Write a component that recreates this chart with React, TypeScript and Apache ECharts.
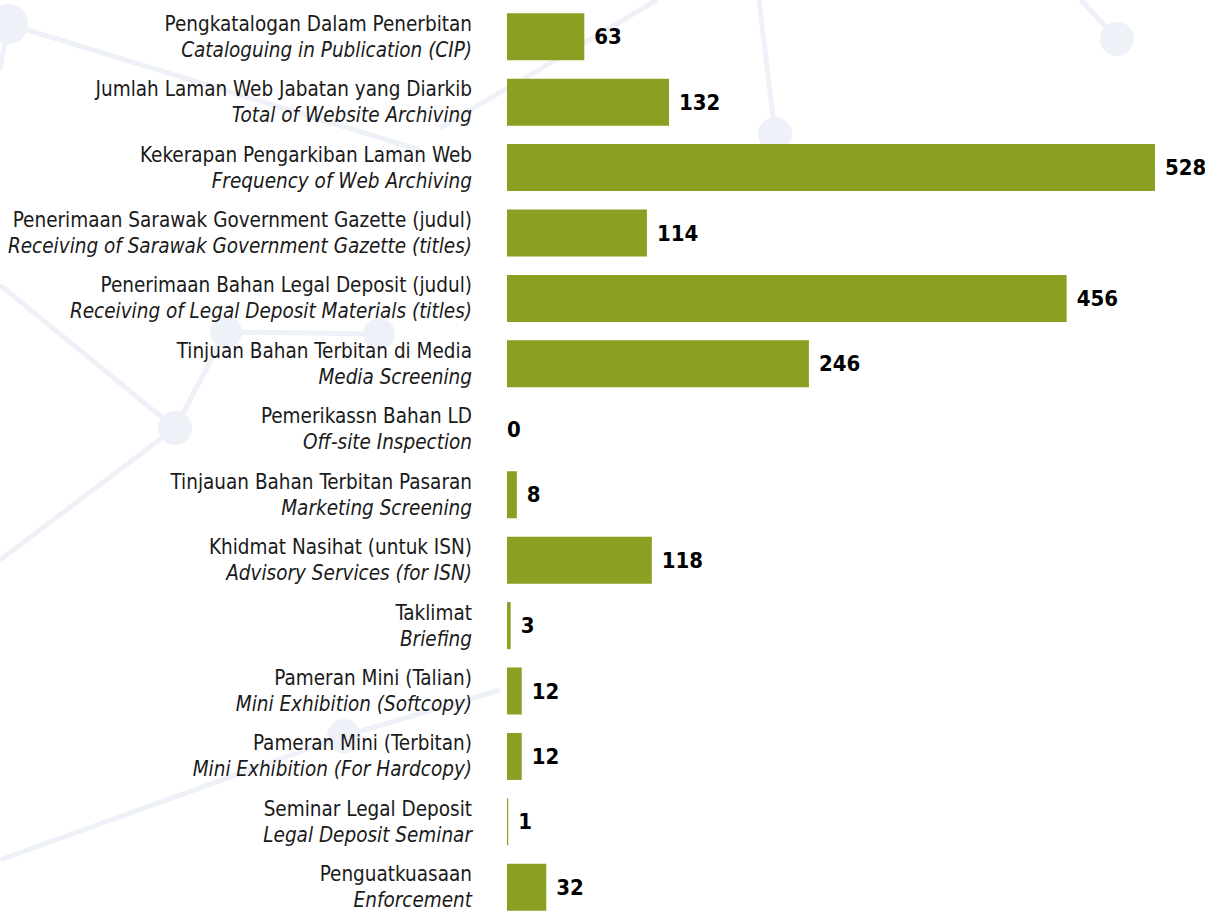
import React, { useEffect, useRef } from "react";
import * as echarts from "echarts";

const categoriesMalay: string[] = [
  "Pengkatalogan Dalam Penerbitan",
  "Jumlah Laman Web Jabatan yang Diarkib",
  "Kekerapan Pengarkiban Laman Web",
  "Penerimaan Sarawak Government Gazette (judul)",
  "Penerimaan Bahan Legal Deposit (judul)",
  "Tinjuan Bahan Terbitan di Media",
  "Pemerikassn Bahan LD",
  "Tinjauan Bahan Terbitan Pasaran",
  "Khidmat Nasihat (untuk ISN)",
  "Taklimat",
  "Pameran Mini (Talian)",
  "Pameran Mini (Terbitan)",
  "Seminar Legal Deposit",
  "Penguatkuasaan",
];

const categoriesEnglish: string[] = [
  "Cataloguing in Publication (CIP)",
  "Total of Website Archiving",
  "Frequency of Web Archiving",
  "Receiving of Sarawak Government Gazette (titles)",
  "Receiving of Legal Deposit Materials (titles)",
  "Media Screening",
  "Off-site Inspection",
  "Marketing Screening",
  "Advisory Services (for ISN)",
  "Briefing",
  "Mini Exhibition (Softcopy)",
  "Mini Exhibition (For Hardcopy)",
  "Legal Deposit Seminar",
  "Enforcement",
];

const values: number[] = [63, 132, 528, 114, 456, 246, 0, 8, 118, 3, 12, 12, 1, 32];

const BAR_COLOR = "#8aa022";
const NET_COLOR = "#eef2f8";
const FONT = "'DejaVu Sans Condensed', 'Liberation Sans Narrow', sans-serif";

// decorative background network (nodes and edges)
const netNodes: [number, number, number][] = [
  [8, 24, 20],
  [1117, 39, 17],
  [775, 134, 17],
  [226, 332, 16],
  [379, 334, 16],
  [175, 428, 17],
  [344, 736, 17],
];
const netEdges: [number, number, number, number][] = [
  [8, 24, 420, 150],
  [8, 24, 0, 70],
  [440, 128, 657, 0],
  [759, 0, 775, 134],
  [1081, 0, 1117, 39],
  [175, 428, 0, 285],
  [175, 428, 0, 560],
  [175, 428, 226, 332],
  [226, 332, 379, 334],
  [344, 736, 0, 860],
  [344, 736, 500, 690],
];

export default function App() {
  const ref = useRef<HTMLDivElement>(null);

  useEffect(() => {
    if (!ref.current) return;
    const chart = echarts.init(ref.current, undefined, { renderer: "svg" });

    const cats = categoriesMalay.map((m, i) => m + "|" + categoriesEnglish[i]);

    const graphics: any[] = [];
    netEdges.forEach(([x1, y1, x2, y2]) => {
      graphics.push({
        type: "line",
        z: -10,
        silent: true,
        shape: { x1, y1, x2, y2 },
        style: { stroke: NET_COLOR, lineWidth: 5 },
      });
    });
    netNodes.forEach(([cx, cy, r]) => {
      graphics.push({
        type: "circle",
        z: -10,
        silent: true,
        shape: { cx, cy, r },
        style: { fill: NET_COLOR },
      });
    });

    chart.setOption({
      animation: false,
      backgroundColor: "#ffffff",
      graphic: graphics,
      grid: {
        left: 507,
        right: 50,
        top: 4,
        bottom: -8,
        containLabel: false,
        outerBoundsMode: "none",
      },
      xAxis: {
        type: "value",
        min: 0,
        max: 528,
        show: false,
      },
      yAxis: {
        type: "category",
        inverse: true,
        data: cats,
        axisLine: { show: false },
        axisTick: { show: false },
        splitLine: { show: false },
        axisLabel: {
          margin: 35,
          align: "right",
          formatter: (v: string) => {
            const [m, e] = v.split("|");
            return "{a|" + m + "}\n{b|" + e + "}";
          },
          rich: {
            a: {
              fontFamily: FONT,
              fontSize: 20.5,
              color: "#1a1a1a",
              lineHeight: 26,
              align: "right",
            },
            b: {
              fontFamily: FONT,
              fontSize: 20.5,
              fontStyle: "italic",
              color: "#1a1a1a",
              lineHeight: 26,
              align: "right",
            },
          },
        },
      },
      series: [
        {
          type: "bar",
          barWidth: 47,
          data: values.map((v) => ({
            value: v,
            label: { distance: v === 0 ? 0 : 10 },
          })),
          itemStyle: { color: BAR_COLOR },
          label: {
            show: true,
            position: "right",
            color: "#000",
            fontFamily: FONT,
            fontWeight: "bold",
            fontSize: 22,
          },
        },
      ],
    });

    return () => chart.dispose();
  }, []);

  return (
    <div
      ref={ref}
      style={{ position: "absolute", left: 0, top: 0, width: 1205, height: 912 }}
    />
  );
}
